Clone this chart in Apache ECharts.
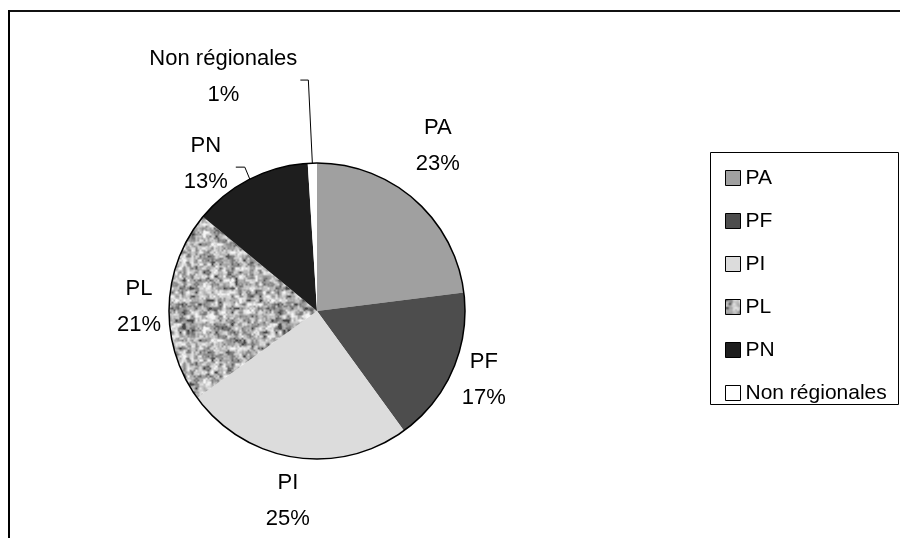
<!DOCTYPE html>
<html>
<head>
<meta charset="utf-8">
<script src="https://cdn.jsdelivr.net/npm/echarts@6/dist/echarts.min.js"></script>
<style>
  html, body { margin: 0; padding: 0; background: #fff; }
  #chart { width: 900px; height: 538px; }
</style>
</head>
<body>
<div id="chart"></div>
<script>
// Répartition par catégorie
const categories = ['PA', 'PF', 'PI', 'PL', 'PN', 'Non régionales'];
const shares = [23, 17, 25, 21, 13, 1];

const FONT = '"Liberation Sans", Arial, sans-serif';
const CX = 317, CY = 311, R = 148;

// Grainy grey texture used for the PL slice (two octaves of value noise)
function makeGrain() {
  const size = 96;
  const c = document.createElement('canvas');
  c.width = c.height = size;
  const ctx = c.getContext('2d');
  const img = ctx.createImageData(size, size);
  function octave(x, y, cell, seed) {
    const cells = size / cell;
    const wrap = (n) => ((n % cells) + cells) % cells;
    const hash = (i, j) => {
      const s = Math.sin(wrap(i) * 127.1 + wrap(j) * 311.7 + seed) * 43758.5453;
      return s - Math.floor(s);
    };
    const gx = x / cell, gy = y / cell;
    const i = Math.floor(gx), j = Math.floor(gy);
    const fx = gx - i, fy = gy - j;
    const sx = fx * fx * (3 - 2 * fx), sy = fy * fy * (3 - 2 * fy);
    const a = hash(i, j), b = hash(i + 1, j), cc = hash(i, j + 1), d = hash(i + 1, j + 1);
    return (a * (1 - sx) + b * sx) * (1 - sy) + (cc * (1 - sx) + d * sx) * sy;
  }
  for (let y = 0; y < size; y++) {
    for (let x = 0; x < size; x++) {
      const v = 0.65 * octave(x, y, 4, 0) + 0.35 * octave(x, y, 2, 17.3);
      const t = Math.min(1, Math.max(0, (v - 0.15) / 0.7));
      const g = Math.round(70 + 175 * Math.pow(t, 0.7));
      const k = (y * size + x) * 4;
      img.data[k] = img.data[k + 1] = img.data[k + 2] = g;
      img.data[k + 3] = 255;
    }
  }
  ctx.putImageData(img, 0, 0);
  return c;
}

const fills = ['#a0a0a0', '#4d4d4d', '#dcdcdc', { image: makeGrain(), repeat: 'repeat' }, '#1e1e1e', '#ffffff'];

// Label offsets from the slice's mid-arc point, and leader-line bends
const labelOffsets = [[23, -54], [31, 10], [-6, 44], [-30, 1], [-44, -15], [-89, -86]];
const leaderBends = { 4: [[-5, -12], [-14, -12]], 5: [[-4, -83], [-12, -83]] };

const total = shares.reduce((s, v) => s + v, 0);
function midArcPoint(idx) {
  let before = 0;
  for (let i = 0; i < idx; i++) before += shares[i];
  const ang = (before + shares[idx] / 2) / total * Math.PI * 2;
  return [CX + R * Math.sin(ang), CY - R * Math.cos(ang)];
}

const chart = echarts.init(document.getElementById('chart'), null, { renderer: 'canvas' });

chart.setOption({
  animation: false,
  backgroundColor: '#fff',
  textStyle: { fontFamily: FONT },
  graphic: [
    { type: 'line', shape: { x1: 8, y1: 11, x2: 900, y2: 11 }, style: { stroke: '#111', lineWidth: 2 } },
    { type: 'line', shape: { x1: 9, y1: 10, x2: 9, y2: 538 }, style: { stroke: '#000', lineWidth: 2 } },
    { type: 'rect', shape: { x: 710.5, y: 152.5, width: 188, height: 252 }, style: { fill: 'none', stroke: '#000', lineWidth: 1 } }
  ],
  legend: {
    orient: 'vertical',
    left: 720,
    top: 162,
    data: categories,
    icon: 'rect',
    itemWidth: 15,
    itemHeight: 15,
    itemGap: 21,
    itemStyle: { borderColor: '#000', borderWidth: 1 },
    textStyle: { fontFamily: FONT, fontSize: 21, lineHeight: 22, color: '#000' },
    selectedMode: false
  },
  series: [
    {
      type: 'pie',
      center: [CX, CY],
      radius: R,
      startAngle: 90,
      clockwise: true,
      silent: true,
      itemStyle: { borderWidth: 0 },
      label: {
        show: true,
        position: 'outside',
        formatter: '{b}\n{d}%',
        fontFamily: FONT,
        fontSize: 22,
        lineHeight: 36,
        color: '#000'
      },
      labelLine: { show: false, lineStyle: { color: '#000', width: 1 } },
      labelLayout: function (p) {
        const i = p.dataIndex;
        const [px, py] = midArcPoint(i);
        const out = {
          x: px + labelOffsets[i][0],
          y: py + labelOffsets[i][1],
          align: 'center',
          verticalAlign: 'middle'
        };
        if (leaderBends[i]) {
          out.labelLinePoints = [[px, py]].concat(leaderBends[i].map(b => [px + b[0], py + b[1]]));
        }
        return out;
      },
      data: categories.map((name, i) => ({
        name,
        value: shares[i],
        itemStyle: { color: fills[i] },
        labelLine: { show: !!leaderBends[i] }
      }))
    },
    {
      // outer outline of the pie
      type: 'pie',
      center: [CX, CY],
      radius: R,
      silent: true,
      label: { show: false },
      labelLine: { show: false },
      itemStyle: { color: 'rgba(0,0,0,0)', borderColor: '#000', borderWidth: 1.5 },
      data: [{ value: 1, name: '' }]
    }
  ]
});
</script>
</body>
</html>
